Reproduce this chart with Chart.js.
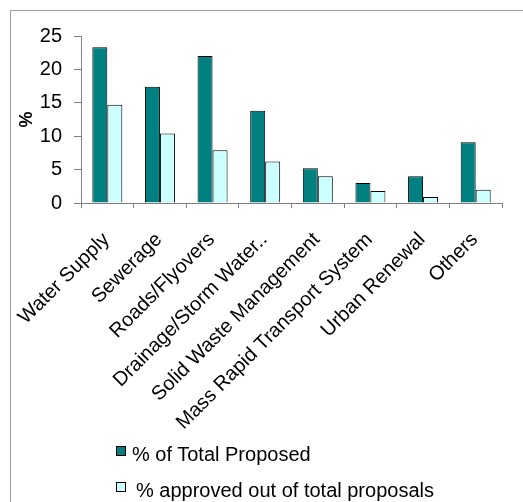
<!DOCTYPE html>
<html>
<head>
<meta charset="utf-8">
<script src="https://cdn.jsdelivr.net/npm/chart.js"></script>
<style>
  body { margin: 0; background: #fff; font-family: "Liberation Sans", Arial, sans-serif; }
  #wrap { position: relative; width: 523px; height: 502px; overflow: hidden; }
  #frame { position: absolute; left: 10px; top: 10px; width: 600px; height: 600px; border: 1px solid #a0a0a0; }
  #chart { position: absolute; left: 0; top: 0; }
  .box { position: absolute; width: 8px; height: 8px; border: 1px solid #000; }
  .lbl { position: absolute; font-size: 20px; line-height: 20px; color: #000; white-space: nowrap; }
</style>
</head>
<body>
<div id="wrap">
  <div id="frame"></div>
  <canvas id="chart" width="523" height="502"></canvas>
  <div class="box" style="left:116px;top:446px;background:#008080"></div>
  <div class="lbl" style="left:132px;top:444px">% of Total Proposed</div>
  <div class="box" style="left:116px;top:482px;background:#ccffff"></div>
  <div class="lbl" style="left:136px;top:480px">% approved out of total proposals</div>
</div>
<script>
const categories = ['Water Supply', 'Sewerage', 'Roads/Flyovers', 'Drainage/Storm Water..',
  'Solid Waste Management', 'Mass Rapid Transport System', 'Urban Renewal', 'Others'];
const totalProposed = [23.3, 17.4, 22.0, 13.8, 5.2, 3.0, 4.0, 9.1];
const approvedShare = [14.7, 10.4, 7.9, 6.2, 4.0, 1.8, 0.9, 2.0];
const yTicks = [0, 5, 10, 15, 20, 25];

const font = 'Liberation Sans, Arial, sans-serif';
const axisGrey = '#808080';

new Chart(document.getElementById('chart').getContext('2d'), {
  type: 'bar',
  data: {
    labels: categories,
    datasets: [
      { label: '% of Total Proposed', data: totalProposed, backgroundColor: '#008080', borderColor: '#000', borderWidth: 1 },
      { label: '% approved out of total proposals', data: approvedShare, backgroundColor: '#ccffff', borderColor: '#000', borderWidth: 1 }
    ]
  },
  options: {
    responsive: false,
    animation: false,
    layout: { padding: { top: 36, right: 21, left: 0, bottom: 0 } },
    datasets: { bar: { categoryPercentage: 0.57, barPercentage: 1.0 } },
    plugins: { legend: { display: false }, tooltip: { enabled: false } },
    scales: {
      x: {
        grid: { offset: true, drawOnChartArea: false, tickLength: 5, color: axisGrey },
        border: { color: axisGrey },
        ticks: { autoSkip: false, minRotation: 45, maxRotation: 45, color: '#000', font: { family: font, size: 20 }, padding: 20, labelOffset: -1 },
        afterFit: s => { s.height = 502 - 203; s.paddingLeft = 0; s.paddingRight = 0; }
      },
      y: {
        min: 0, max: 25,
        afterBuildTicks: s => { s.ticks = yTicks.map(v => ({ value: v })); },
        grid: { drawOnChartArea: false, tickLength: 7, color: axisGrey },
        border: { color: axisGrey },
        ticks: { color: '#000', font: { family: font, size: 20 }, padding: 12 },
        title: { display: true, text: '%', color: '#000', font: { family: font, size: 18, weight: 'bold' }, padding: { top: 16, bottom: 0 } },
        afterFit: s => { s.width = 81; }
      }
    }
  }
});
</script>
</body>
</html>
